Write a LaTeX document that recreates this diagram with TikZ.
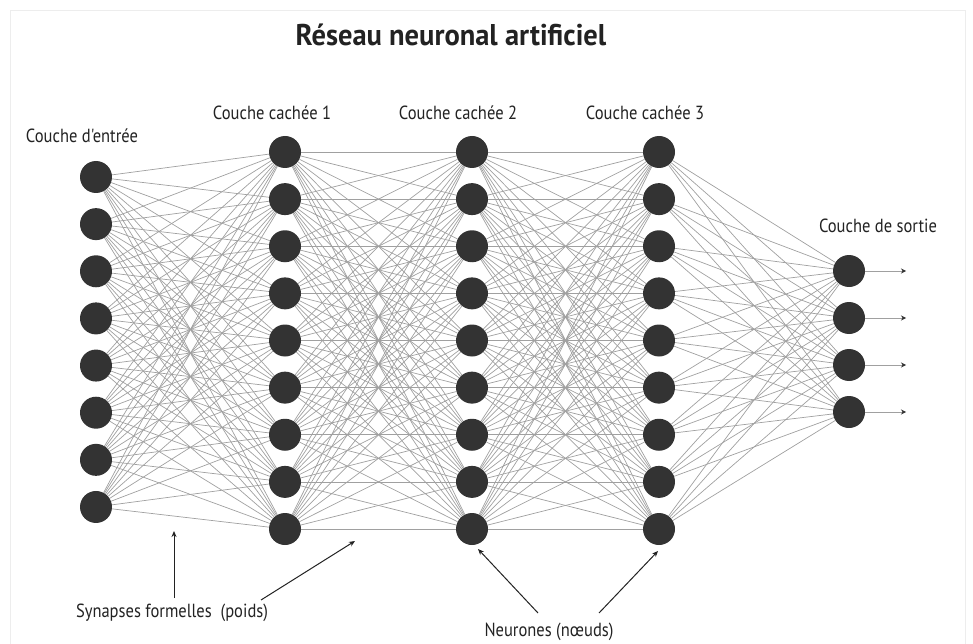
\documentclass[tikz,border=0pt]{standalone}
\usepackage{fontspec}
\setmainfont{PT Sans}
\newfontfamily\labfont[FakeStretch=0.87]{PT Sans}
\newfontfamily\ttlfont[FakeStretch=0.95]{PT Sans}
\usetikzlibrary{arrows.meta,backgrounds}
\definecolor{nodegray}{HTML}{333333}
\definecolor{syngray}{HTML}{A0A0A0}
\definecolor{txtgray}{HTML}{222222}
\begin{document}
\begin{tikzpicture}[x=1pt,y=-1pt,
  neuron/.style={circle,fill=nodegray,minimum size=32pt,inner sep=0pt},
  syn/.style={draw=syngray,line width=0.7pt},
  lab/.style={font=\labfont\fontsize{19}{21}\selectfont,text=txtgray,inner sep=0pt},
  ttl/.style={font=\ttlfont\bfseries\fontsize{30}{33}\selectfont,text=txtgray,inner sep=0pt},
  annot/.style={draw=txtgray,line width=1pt,-{Stealth[length=6pt,width=5pt]}},
  outarr/.style={draw=syngray,line width=1pt,-{Stealth[length=5pt,width=5pt,color=nodegray]}}]
\useasboundingbox (0,0) rectangle (973,644);
\draw[black!7,line width=0.8pt] (10,650) -- (10,10) -- (965,10) -- (965,650);

% neurons
\foreach \i in {1,...,8} \node[neuron] (a\i) at (96,{177+(\i-1)*47.14}) {};
\foreach \i in {1,...,9} {
  \node[neuron] (b\i) at (285,{152+(\i-1)*47.125}) {};
  \node[neuron] (c\i) at (472,{152+(\i-1)*47.125}) {};
  \node[neuron] (d\i) at (659,{152+(\i-1)*47.125}) {};
}
\foreach \i in {1,...,4} \node[neuron] (o\i) at (849,{271+(\i-1)*47}) {};

% synapses
\begin{scope}[on background layer]
\foreach \i in {1,...,8} \foreach \j in {1,...,9} \draw[syn] (a\i) -- (b\j);
\foreach \i in {1,...,9} \foreach \j in {1,...,9} {
  \draw[syn] (b\i) -- (c\j);
  \draw[syn] (c\i) -- (d\j);
}
\foreach \i in {1,...,9} \foreach \j in {1,...,4} \draw[syn] (d\i) -- (o\j);
\end{scope}

% output arrows
\foreach \i in {1,...,4} {
  \coordinate (e\i) at (906,{271+(\i-1)*47});
  \draw[outarr] (o\i) -- (e\i);
}

% labels
\node[ttl] (title) at (451,35) {Réseau neuronal artificiel};
\node[lab] (lin) at (82,136) {Couche d'entrée};
\node[lab] (lh1) at (272,113) {Couche cachée 1};
\node[lab] (lh2) at (458,113) {Couche cachée 2};
\node[lab] (lh3) at (645,113) {Couche cachée 3};
\node[lab] (lout) at (878,226) {Couche de sortie};
\node[lab] (lsyn) at (172,613) {Synapses formelles\ \ (poids)};
\node[lab] (lneu) at (549,632) {Neurones (nœuds)};

% annotation arrows
\coordinate (s1a) at (174,598);
\coordinate (s1b) at (174,531);
\coordinate (s2a) at (261,600);
\coordinate (s2b) at (355,541);
\coordinate (n1a) at (538,613);
\coordinate (n1b) at (478,549);
\coordinate (n2a) at (599,613);
\coordinate (n2b) at (658,551);
\draw[annot] (s1a) -- (s1b);
\draw[annot] (s2a) -- (s2b);
\draw[annot] (n1a) -- (n1b);
\draw[annot] (n2a) -- (n2b);
\end{tikzpicture}
\end{document}
